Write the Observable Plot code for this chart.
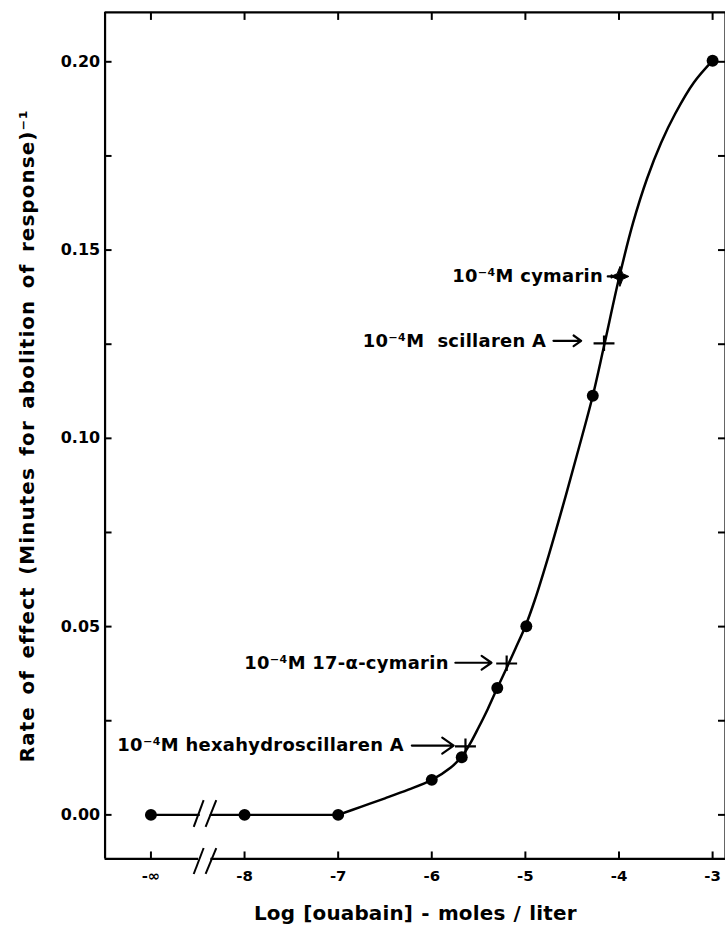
<!DOCTYPE html>
<html>
<head>
<meta charset="utf-8">
<script src="https://cdn.jsdelivr.net/npm/d3@7"></script>
<script src="https://cdn.jsdelivr.net/npm/@observablehq/plot@0.6"></script>
<style>
  html, body { margin: 0; padding: 0; background: #fff; overflow: hidden; }
  #chart svg { display: block; }
</style>
</head>
<body>
<div id="chart"></div>
<script>
// ---------------- data ----------------
// x axis: log molar concentration of ouabain (-9 stands for "-∞")
const xTickValues = [-9, -8, -7, -6, -5, -4, -3];
const xTickLabels = ["-∞", "-8", "-7", "-6", "-5", "-4", "-3"];
const yTickValues = [0, 0.05, 0.10, 0.15, 0.20];
const yTickLabels = ["0.00", "0.05", "0.10", "0.15", "0.20"];
const yMinorTicks = [0.025, 0.075, 0.125, 0.175];
const xTitle = "Log [ouabain] - moles / liter";
const yTitle = "Rate of effect (Minutes for abolition of response)⁻¹";

// measured ouabain points
const ouabainLog  = [-9, -8, -7, -6, -5.68, -5.30, -4.99, -4.28, -3.00];
const ouabainRate = [0, 0, 0, 0.0093, 0.0153, 0.0337, 0.0501, 0.1113, 0.2003];

// flat part of the curve (left of and right of the axis break)
const flatLeftLog  = [-9, -8.49];
const flatRightLog = [-8.36, -8, -7];

// fitted dose-response curve
const curveLog  = [-7.00, -6.75, -6.50, -6.25, -6.00, -5.80, -5.68, -5.60, -5.50, -5.40, -5.30, -5.20, -5.10, -5.00, -4.90, -4.75, -4.60, -4.45, -4.28, -4.16, -4.00, -3.85, -3.70, -3.55, -3.40, -3.20, -3.00];
const curveRate = [0.0000, 0.0022, 0.0044, 0.0067, 0.0093, 0.0125, 0.0155, 0.0185, 0.0232, 0.0282, 0.0337, 0.0390, 0.0445, 0.0501, 0.0570, 0.0690, 0.0820, 0.0955, 0.1113, 0.1245, 0.1425, 0.1572, 0.1690, 0.1785, 0.1862, 0.1945, 0.2003];

// other glycosides at 10^-4 M, plotted at the equivalent ouabain level
const glycosideLabels = ["10⁻⁴M cymarin", "10⁻⁴M  scillaren A", "10⁻⁴M 17-α-cymarin", "10⁻⁴M hexahydroscillaren A"];
const glycosideLog    = [-3.99, -4.16, -5.20, -5.64];
const glycosideRate   = [0.1430, 0.1252, 0.0402, 0.0182];
const labelRate       = [0.1430, 0.1259, 0.0404, 0.0184];
const labelEndLog     = [-4.17, -4.777, -5.819, -6.298];
const arrowFromLog    = [-4.12, -4.70, -5.748, -6.213];
const arrowToLog      = [-4.065, -4.404, -5.362, -5.766];

// axis break (between -∞ and -8)
const breakGapLog = [-8.49, -8.36];
const breakSlashLog = [[-8.543, -8.437], [-8.416, -8.302]];
const lineSlashRate = [-0.0032, 0.0039];
const axisSlashRate = [-0.0157, -0.0088];

// ---------------- layout ----------------
const W = 728, H = 929, ML = 105, MR = 0, MT = 12, MB = 67;
const frameW = W - ML - MR, frameH = H - MT - MB;
const xDomain = [-9.49, -9.49 + frameW / 94];
const yDomain = [-0.0117, -0.0117 + frameH / 3781];
const FONT = "DejaVu Sans";

const points = ouabainLog.map((x, i) => ({x, y: ouabainRate[i]}));
const leftLine = flatLeftLog.map(x => ({x, y: 0}));
const rightFlat = flatRightLog.map(x => ({x, y: 0}));
const curve = curveLog.map((x, i) => ({x, y: curveRate[i]}));
const glyco = glycosideLabels.map((label, i) => ({
  label, x: glycosideLog[i], y: glycosideRate[i], ly: labelRate[i],
  tx: labelEndLog[i], ax1: arrowFromLog[i], ax2: arrowToLog[i], star: i === 0
}));
const slashes = [];
for (const [a, b] of breakSlashLog) {
  slashes.push({x1: a, x2: b, y1: lineSlashRate[0], y2: lineSlashRate[1]});
  slashes.push({x1: a, x2: b, y1: axisSlashRate[0], y2: axisSlashRate[1]});
}
const bottomSegments = [
  {x1: xDomain[0], x2: breakGapLog[0], y: yDomain[0]},
  {x1: breakGapLog[1], x2: xDomain[1], y: yDomain[0]}
];
const xTicks = xTickValues.map((v, i) => ({v, label: xTickLabels[i]}));
const yTicks = yTickValues.map((v, i) => ({v, label: yTickLabels[i]}));
const allYTicks = yTickValues.concat(yMinorTicks);

const plusSymbol = {
  draw(ctx) {
    ctx.moveTo(-10.5, 0); ctx.lineTo(10.5, 0);
    ctx.moveTo(0, -8); ctx.lineTo(0, 7.5);
  }
};
const starSymbol = {
  draw(ctx) {
    const a = 9, b = 10, c = 2.8;
    ctx.moveTo(0, -b); ctx.lineTo(c, -c); ctx.lineTo(a, 0); ctx.lineTo(c, c);
    ctx.lineTo(0, b); ctx.lineTo(-c, c); ctx.lineTo(-a, 0); ctx.lineTo(-c, -c);
    ctx.closePath();
  }
};

const chart = Plot.plot({
  width: W, height: H,
  marginLeft: ML, marginRight: MR, marginTop: MT, marginBottom: MB,
  x: {domain: xDomain, axis: null},
  y: {domain: yDomain, axis: null},
  style: {fontFamily: FONT, color: "black", background: "white"},
  marks: [
    // frame
    Plot.ruleX([xDomain[0]], {stroke: "black", strokeWidth: 2.2}),
    Plot.ruleX([xDomain[1]], {stroke: "black", strokeWidth: 2.2}),
    Plot.ruleY([yDomain[1]], {stroke: "black", strokeWidth: 2.2}),
    Plot.ruleY(bottomSegments, {y: "y", x1: "x1", x2: "x2", stroke: "black", strokeWidth: 2.2}),
    // inward ticks
    Plot.tickX(xTickValues, {x: d => d, insetTop: frameH - 7, stroke: "black", strokeWidth: 2}),
    Plot.tickX(xTickValues, {x: d => d, insetBottom: frameH - 8, stroke: "black", strokeWidth: 2}),
    Plot.tickY(allYTicks, {y: d => d, insetRight: frameW - 7, stroke: "black", strokeWidth: 2}),
    Plot.tickY(allYTicks, {y: d => d, insetLeft: frameW - 7, stroke: "black", strokeWidth: 2}),
    // tick labels
    Plot.text(xTicks, {x: "v", frameAnchor: "bottom", lineAnchor: "middle", dy: 17, text: "label",
      fontSize: 15, fontWeight: "bold", fill: "black"}),
    Plot.text(yTicks, {y: "v", frameAnchor: "left", dx: -5, textAnchor: "end", text: "label",
      fontSize: 16, fontWeight: "bold", fill: "black"}),
    // axis break slashes
    Plot.link(slashes, {x1: "x1", y1: "y1", x2: "x2", y2: "y2", stroke: "black", strokeWidth: 2}),
    // curve
    Plot.line(leftLine, {x: "x", y: "y", stroke: "black", strokeWidth: 2.5}),
    Plot.line(rightFlat, {x: "x", y: "y", stroke: "black", strokeWidth: 2.5}),
    Plot.line(curve, {x: "x", y: "y", stroke: "black", strokeWidth: 2.5, curve: "catmull-rom"}),
    // ouabain points
    Plot.dot(points, {x: "x", y: "y", r: 6, fill: "black", stroke: "none"}),
    // glycoside markers
    Plot.dot(glyco.filter(d => !d.star), {x: "x", y: "y", symbol: plusSymbol, stroke: "black", fill: "none", strokeWidth: 2.2}),
    Plot.dot(glyco.filter(d => d.star), {x: "x", y: "y", symbol: starSymbol, fill: "black", stroke: "black", strokeWidth: 1}),
    // annotation arrows and labels
    Plot.arrow(glyco, {x1: "ax1", x2: "ax2", y1: "ly", y2: "ly", stroke: "black", strokeWidth: 2.2, headLength: 10, headAngle: 70}),
    Plot.text(glyco, {x: "tx", y: "ly", text: "label", textAnchor: "end",
      fontSize: 18, fontWeight: "bold", fill: "black"}),
    // axis titles
    Plot.text([xTitle], {frameAnchor: "bottom", lineAnchor: "middle", textAnchor: "middle", dy: 55, text: d => d,
      fontSize: 20, fontWeight: "bold", fill: "black"}),
    Plot.text([yTitle], {frameAnchor: "left", textAnchor: "middle", lineAnchor: "middle", dx: -78, rotate: -90, text: d => d,
      fontSize: 20, fontWeight: "bold", fill: "black"})
  ]
});

document.getElementById("chart").appendChild(chart);
chart.querySelectorAll("text").forEach(t => {
  const s = t.textContent;
  if (s === xTitle) {
    t.style.letterSpacing = "0.2px"; t.style.wordSpacing = "1px";
  } else if (s === yTitle) {
    t.style.letterSpacing = "1.1px"; t.style.wordSpacing = "3.5px";
  } else if (glycosideLabels.includes(s)) {
    t.style.letterSpacing = "0.3px"; t.style.whiteSpace = "pre";
  }
});
</script>
</body>
</html>
